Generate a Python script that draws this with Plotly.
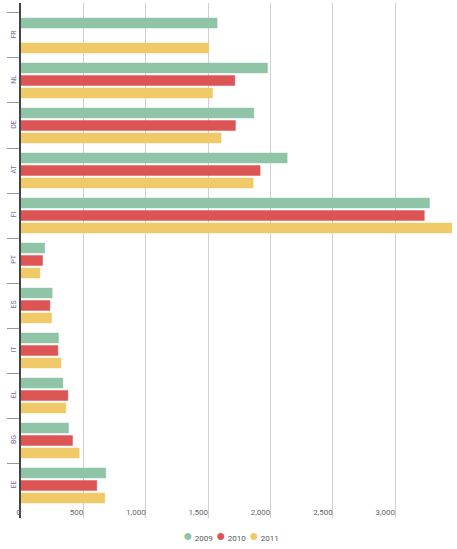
import plotly.graph_objects as go

countries = ["FR", "NL", "DE", "AT", "FI", "PT", "ES", "IT", "EL", "BG", "EE"]
years = ["2009", "2010", "2011"]
v2009 = [1573, 1977, 1868, 2135, 3277, 190, 250, 301, 336, 381, 680]
v2010 = [None, 1715, 1720, 1918, 3235, 173, 232, 296, 376, 413, 608]
v2011 = [1506, 1536, 1605, 1862, 3600, 152, 245, 320, 360, 467, 672]
colors = ["#8fc4a7", "#dd5454", "#f0ca68"]
edges = ["rgba(143,196,167,0.45)", "rgba(221,84,84,0.45)", "rgba(240,202,104,0.45)"]

fig = go.Figure()
for name, vals, col, edge in zip(years, [v2009, v2010, v2011], colors, edges):
    fig.add_bar(y=countries, x=vals, name=name, orientation="h", showlegend=False,
                marker=dict(color=col, line=dict(color=edge, width=1)))

# small legend with round markers, like the original
legend_x = [0.371, 0.448, 0.5245]
for name, col, lx in zip(years, colors, legend_x):
    fig.add_annotation(x=lx, y=-0.034, xref="paper", yref="paper", showarrow=False,
                       xanchor="left", yanchor="middle",
                       text=f'<span style="color:{col};font-size:16px">●</span>'
                            f'<span style="font-size:8px"> {name}</span>',
                       font=dict(color="#555"))

fig.update_layout(
    width=457, height=549,
    margin=dict(l=21, r=5, t=3, b=31),
    plot_bgcolor="white", paper_bgcolor="white",
    barmode="group", bargap=0.167, bargroupgap=0.2,
    showlegend=False,
    font=dict(family="Roboto, sans-serif", size=8, color="#666"),
)
fig.update_xaxes(range=[0, 3457], tickformat=",", dtick=500, showgrid=True,
                 gridcolor="#d0d0d0", gridwidth=1, zeroline=False,
                 ticklabelposition="inside left", ticklabeloverflow="allow",
                 ticklabelstandoff=-5,
                 automargin=False, tickfont=dict(size=8, color="#666"))
fig.update_yaxes(type="category", categoryorder="array", categoryarray=countries,
                 range=[10.722, -0.722], showline=True, linecolor="#444", linewidth=1.5,
                 ticks="outside", tickson="boundaries", ticklen=12, tickcolor="#999",
                 tickangle=-90, automargin=False, showgrid=False,
                 tickfont=dict(size=7, color="#7a6f95"))

# page has a default 8px body margin; drop it so the chart sits at the corner
fig.write_html("out.html", config={"displayModeBar": False},
               post_script="document.body.style.margin='0';")
